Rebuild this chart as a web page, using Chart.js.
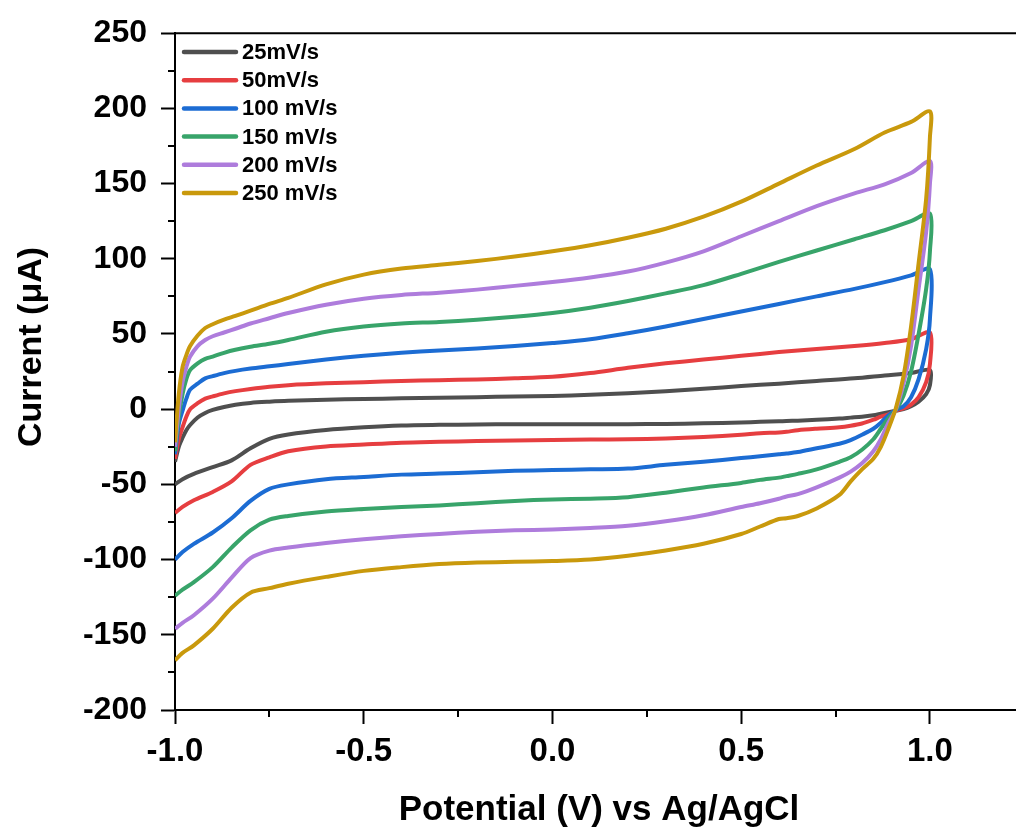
<!DOCTYPE html>
<html>
<head>
<meta charset="utf-8">
<script src="https://cdn.jsdelivr.net/npm/chart.js@4.4.1/dist/chart.umd.min.js"></script>
<style>
  html, body { margin: 0; padding: 0; background: #fff; }
</style>
</head>
<body>
<canvas id="cvChart" width="1016" height="829"></canvas>
<script>
// scan rates, one loop each
const scanRates = ['25mV/s', '50mV/s', '100 mV/s', '150 mV/s', '200 mV/s', '250 mV/s'];

// potential (V) on the anodic sweep, -1.0 -> 1.0
const fwdPotential = [-1.0, -0.99, -0.98, -0.97, -0.96, -0.94, -0.92, -0.9, -0.87, -0.84, -0.8, -0.75, -0.7,
  -0.6, -0.5, -0.4, -0.3, -0.2, -0.1, 0.0, 0.1, 0.2, 0.3, 0.4, 0.5, 0.6, 0.7, 0.8, 0.88, 0.95, 1.0];
// potential (V) on the cathodic sweep, 1.0 -> -1.0
const revPotential = [1.0, 0.99, 0.97, 0.95, 0.93, 0.91, 0.89, 0.87, 0.85, 0.82, 0.79, 0.76, 0.7, 0.65, 0.62,
  0.6, 0.55, 0.5, 0.4, 0.3, 0.2, 0.1, 0.0, -0.1, -0.2, -0.3, -0.4, -0.5, -0.6, -0.7, -0.75, -0.8, -0.85,
  -0.9, -0.95, -0.98, -1.0];

// current (uA), anodic sweep
const fwd25 = [-35, -25, -19, -14, -10.5, -5.5, -2.5, -0.5, 1.5, 3, 4.2, 5, 5.6, 6.3, 6.8, 7.2, 7.6, 8, 8.4,
  8.8, 9.6, 10.6, 12, 13.6, 15.4, 17, 18.8, 20.5, 22.4, 24, 26];
const fwd50 = [-33, -20, -12, -5, 0, 4, 7, 8.5, 10.5, 12, 13.5, 15, 16, 17.2, 18, 18.7, 19.3, 19.8, 20.5,
  21.5, 24, 27.5, 30.5, 33, 35.5, 38, 40, 42, 44, 46.5, 51];
const fwd100 = [-30, -10, -1, 7, 13, 17, 20.5, 22, 24, 25.5, 27, 28.5, 30, 33, 35.5, 37.5, 39, 40.3, 42, 44,
  46.5, 50.5, 55, 60, 65, 70, 75, 80, 84.5, 89, 93];
const fwd150 = [-28, -5, 10, 20, 26, 30.5, 33.5, 35, 37.5, 39.5, 41.5, 43.5, 46, 51.5, 55, 57, 58, 59.5,
  61.5, 64, 67.5, 72, 77, 82.5, 90, 98, 105.5, 113, 119, 125, 130];
const fwd200 = [-25, 0, 18, 28, 35, 42, 46, 48.5, 51, 53.5, 57, 60.5, 64, 69.5, 73.5, 76, 77.5, 79.5, 82,
  84.5, 87.5, 91.5, 97.5, 105, 115, 125, 135, 143.5, 149.5, 157, 165];
const fwd250 = [-22, 10, 28, 36, 42, 49, 54, 56.5, 59.5, 62, 65.5, 70, 74, 83, 89.5, 93.5, 96, 98.5, 101.5,
  105, 109, 114, 120, 128, 138, 150, 162, 173, 184, 191, 198];

// current (uA), cathodic sweep
const rev25 = [16, 10, 5, 2, 0, -1, -2, -3, -4, -5, -5.6, -6.2, -7, -7.6, -7.9, -8, -8.4, -8.8, -9.4, -9.8,
  -10, -10, -10, -10, -10.2, -10.4, -10.8, -12, -13.8, -16.8, -19.7, -26, -34, -38.5, -43, -46.5, -50];
const rev50 = [30, 18, 8, 3, 0.5, -1, -3.5, -5, -7, -9.5, -11, -12, -13, -14, -15, -15.5, -16, -17, -18.5,
  -19.5, -20, -20.2, -20.5, -20.8, -21.2, -21.7, -22.3, -23.5, -24.8, -28, -32, -37, -48, -55, -60.5, -65, -69];
const rev100 = [60, 40, 20, 8, 2, -0.5, -4, -9, -13, -17, -20.5, -23, -26, -28.5, -29.5, -30, -31.3, -32.5,
  -35, -37, -39.5, -40, -40.5, -41, -42, -42.8, -43.5, -45, -46.5, -50, -53, -61, -72.5, -82, -89.5, -95, -100];
const rev150 = [105, 80, 50, 25, 9, -0.5, -6, -13, -20, -27, -32, -35, -40, -43, -44.5, -45.5, -47, -49, -52,
  -55.5, -58.5, -59.5, -60, -61, -62.5, -64, -65, -66.3, -68, -71, -73.5, -80.5, -92, -105, -115, -120, -124];
const rev200 = [150, 118, 80, 42, 17, 0, -9, -20, -28, -36, -41.5, -45.5, -52, -56.5, -58, -59.5, -62.5, -65,
  -70.5, -74.5, -77.5, -79, -80, -80.5, -81.5, -83, -84.5, -86.5, -89, -92, -94, -99, -112, -126, -137, -142, -146];
const rev250 = [181, 140, 97, 55, 22, 1, -13, -25, -33, -40, -48, -57, -66, -71, -72.5, -73, -78, -83, -89.5,
  -94, -97.5, -100, -101, -101.5, -102, -103, -105, -107.5, -111.5, -116, -119, -122, -132, -146, -157, -162, -167];

// labelled ticks
const xTickValues = [-1.0, -0.5, 0.0, 0.5, 1.0];
const yTickValues = [-200, -150, -100, -50, 0, 50, 100, 150, 200, 250];

const lineColors = ['#4f4f4f', '#e63e40', '#1c6cd3', '#38a46a', '#ae7cdc', '#c9990c'];
const FONT = '"Liberation Sans", Arial, sans-serif';

const fwdSweeps = [fwd25, fwd50, fwd100, fwd150, fwd200, fwd250];
const revSweeps = [rev25, rev50, rev100, rev150, rev200, rev250];

const datasets = scanRates.map((label, i) => ({
  label: label,
  data: fwdPotential.map((e, j) => ({ x: e, y: fwdSweeps[i][j] }))
    .concat(revPotential.map((e, j) => ({ x: e, y: revSweeps[i][j] }))),
  borderColor: lineColors[i],
  backgroundColor: lineColors[i],
  borderWidth: 4,
  pointRadius: 0,
  showLine: true,
  fill: false,
  tension: 0.3,
  borderJoinStyle: 'round',
  order: scanRates.length - i   // faster scans drawn over slower ones
}));

// frame top line, minor ticks, legend box and axis titles
const axisDecor = {
  id: 'axisDecor',
  afterDraw(chart) {
    const { ctx, chartArea: a, scales: { x, y } } = chart;
    ctx.save();
    ctx.strokeStyle = '#000';
    ctx.lineWidth = 2;
    ctx.beginPath();
    ctx.moveTo(a.left - 1, a.top);
    ctx.lineTo(a.right, a.top);
    ctx.stroke();

    ctx.beginPath();
    for (let i = 0; i < yTickValues.length - 1; i++) {
      const py = Math.round(y.getPixelForValue((yTickValues[i] + yTickValues[i + 1]) / 2));
      ctx.moveTo(a.left - 7, py);
      ctx.lineTo(a.left, py);
    }
    for (let i = 0; i < xTickValues.length; i++) {
      const v = xTickValues[i] + 0.25;
      if (v > x.max) continue;
      const px = Math.round(x.getPixelForValue(v));
      ctx.moveTo(px, a.bottom);
      ctx.lineTo(px, a.bottom + 7);
    }
    ctx.stroke();

    // legend
    ctx.font = 'bold 22px ' + FONT;
    ctx.textBaseline = 'middle';
    ctx.textAlign = 'left';
    ctx.lineWidth = 4.5;
    ctx.lineCap = 'round';
    chart.data.datasets.forEach((ds, i) => {
      const ly = 52 + i * 28.2;
      ctx.strokeStyle = ds.borderColor;
      ctx.beginPath();
      ctx.moveTo(184, ly);
      ctx.lineTo(236, ly);
      ctx.stroke();
      ctx.fillStyle = '#000';
      ctx.fillText(ds.label, 242, ly + 1);
    });

    // axis titles
    ctx.fillStyle = '#000';
    ctx.textAlign = 'center';
    ctx.textBaseline = 'alphabetic';
    ctx.font = 'bold 35px ' + FONT;
    ctx.fillText('Potential (V) vs Ag/AgCl', 599, 820);
    ctx.translate(41, 347);
    ctx.rotate(-Math.PI / 2);
    ctx.font = 'bold 34px ' + FONT;
    ctx.fillText('Current (\u03bcA)', 0, 0);
    ctx.restore();
  }
};

const axisGrid = {
  display: true,
  drawOnChartArea: false,
  drawTicks: true,
  tickLength: 14,
  tickWidth: 2,
  tickColor: '#000'
};

new Chart(document.getElementById('cvChart').getContext('2d'), {
  type: 'scatter',
  data: { datasets: datasets },
  options: {
    responsive: false,
    devicePixelRatio: 1,
    animation: false,
    events: [],
    layout: { padding: { top: 28, right: 0, left: 0, bottom: 0 } },
    plugins: { legend: { display: false }, tooltip: { enabled: false } },
    scales: {
      x: {
        type: 'linear',
        min: -1,
        max: 1.228,
        afterBuildTicks: s => { s.ticks = xTickValues.map(v => ({ value: v })); },
        afterFit: s => { s.height = 119; },
        grid: axisGrid,
        border: { display: true, color: '#000', width: 2 },
        ticks: {
          color: '#000',
          padding: 8,
          maxRotation: 0,
          autoSkip: false,
          font: { family: FONT, size: 33, weight: 'bold' },
          callback: v => Number(v).toFixed(1)
        }
      },
      y: {
        type: 'linear',
        min: -200,
        max: 250,
        afterBuildTicks: s => { s.ticks = yTickValues.map(v => ({ value: v })); },
        afterFit: s => { s.width = 175; },
        grid: axisGrid,
        border: { display: true, color: '#000', width: 2 },
        ticks: {
          color: '#000',
          padding: 14,
          autoSkip: false,
          font: { family: FONT, size: 32, weight: 'bold' },
          callback: v => String(v)
        }
      }
    }
  },
  plugins: [axisDecor]
});
</script>
</body>
</html>
